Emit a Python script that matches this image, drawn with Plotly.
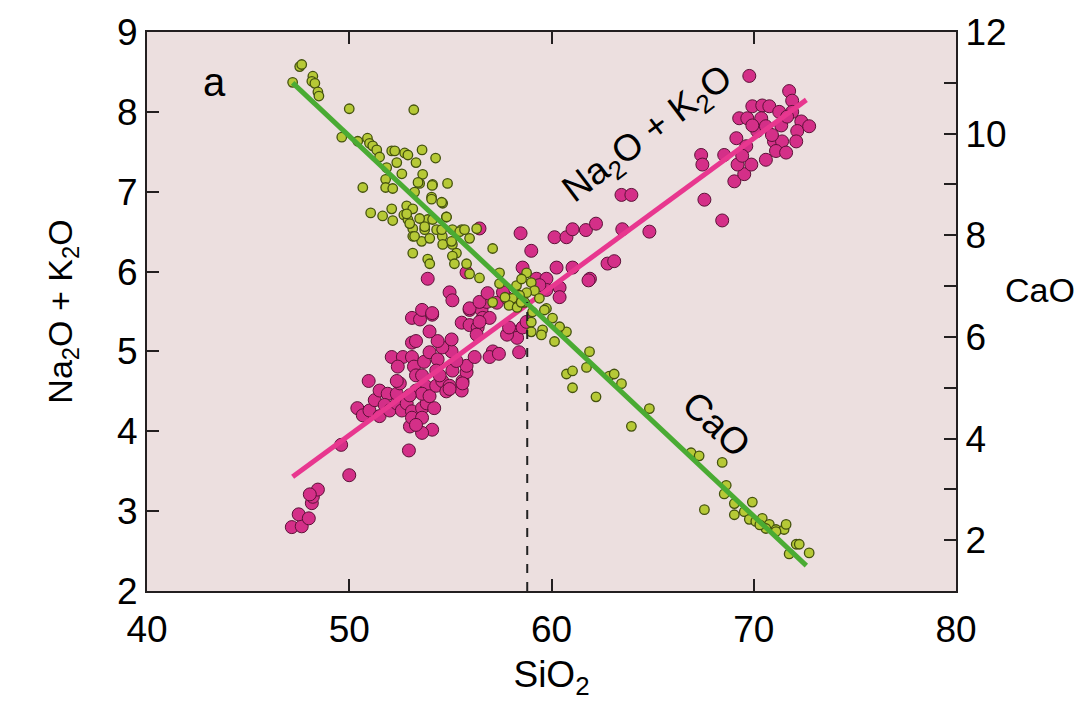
import plotly.graph_objects as go

# Na2O + K2O (wt%) versus SiO2 (wt%)
alk_sio2 = [47.16, 47.65, 47.5, 48.0, 48.15, 48.2, 48.45, 48.05, 50.0, 49.6, 52.95, 54.1, 53.6, 53.0,
            50.4, 50.96, 50.67, 51.0, 51.5, 51.26, 51.5, 51.9, 51.75, 52.0, 52.35, 52.6, 52.84, 53.1, 53.6,
            53.83, 54.2, 53.1, 53.6, 53.3, 52.35, 52.5, 52.35, 52.1, 52.65, 52.4, 53.1, 53.2, 53.3, 53.7,
            53.6, 53.97, 54.37, 54.3, 53.8, 53.3, 53.6, 52.99, 53.97, 54.3, 54.6, 54.47, 54.96, 54.8, 55.56,
            55.6, 55.8, 55.8, 56.2, 55.1, 55.3, 55.06, 54.6, 54.37, 53.97, 53.1, 53.3, 55.06, 55.56, 55.95,
            56.35, 55.95, 56.54, 56.6, 56.3, 53.1, 53.5, 53.6, 54.1,
            54.96, 55.1, 55.95, 56.8, 57.3, 57.8, 58.4, 58.07, 58.3, 58.57, 57.8, 58.4, 57.1, 56.94, 57.4,
            54.96, 55.6,
            56.44, 58.47, 59.0, 60.15, 60.74, 61.04, 61.7, 62.2, 53.88, 56.44, 56.84, 57.6, 56.94, 56.44,
            54.1, 58.57, 59.26, 59.75, 60.25, 61.04, 60.4, 60.4, 59.75, 59.4, 61.9, 58.77, 57.9, 55.8,
            61.83, 62.77, 63.1, 63.5, 63.46, 63.95, 64.84, 67.56, 68.44, 67.4, 67.46, 68.54, 69.04, 69.53,
            69.88, 69.2, 69.14, 69.28, 69.68, 69.78, 69.93, 70.42, 70.77, 70.37, 70.17, 70.6, 71.0, 71.4,
            71.1, 71.6, 70.6, 70.9, 71.75, 71.9, 71.9, 72.35, 72.15, 72.1, 72.74, 71.26, 71.36, 69.93,
            69.63, 69.43, 71.65]
alk_value = [2.80, 2.81, 2.96, 2.91, 3.10, 3.18, 3.27, 3.21, 3.45, 3.83, 3.76, 4.02, 3.98, 4.06,
             4.29, 4.63, 4.20, 4.26, 4.19, 4.39, 4.51, 4.47, 4.33, 4.26, 4.35, 4.26, 4.35, 4.25, 4.29,
             4.35, 4.29, 4.17, 4.17, 4.08, 4.47, 4.60, 4.63, 4.93, 4.93, 4.81, 4.93, 4.81, 4.70, 4.87,
             4.70, 4.99, 4.90, 4.76, 4.56, 4.51, 4.47, 4.45, 4.44, 4.57, 4.63, 4.70, 4.57, 4.50, 4.51,
             4.63, 4.74, 4.82, 4.93, 4.76, 4.88, 5.00, 5.05, 5.13, 5.25, 5.11, 5.13, 5.15, 5.36, 5.33,
             5.30, 5.52, 5.52, 5.42, 5.21, 5.42, 5.40, 5.52, 5.46,
             5.74, 5.64, 5.54, 5.62, 5.61, 5.67, 5.64, 5.25, 5.17, 5.30, 5.21, 4.99, 5.00, 4.93, 4.97,
             4.53, 4.60,
             6.54, 6.48, 6.26, 6.43, 6.43, 6.53, 6.52, 6.60, 5.91, 5.62, 5.73, 5.74, 5.42, 5.37,
             5.48, 6.05, 5.91, 5.91, 6.05, 6.05, 5.80, 5.68, 5.77, 5.83, 5.91, 5.37, 5.30, 5.99,
             5.89, 6.10, 6.13, 6.53, 6.96, 6.96, 6.50, 6.90, 6.64, 7.46, 7.34, 7.46, 7.13, 7.22,
             7.34, 7.34, 7.67, 7.92, 7.92, 8.45, 8.07, 8.08, 8.07, 7.92, 7.76, 7.82, 7.63, 7.63,
             7.51, 7.49, 7.40, 7.71, 8.26, 8.14, 8.00, 7.88, 7.76, 7.63, 7.82, 8.00, 7.83, 7.83,
             7.57, 7.45, 7.94]

# CaO (wt%) versus SiO2 (wt%)
cao_sio2 = [47.55, 47.65, 47.2, 48.2, 48.15, 48.3, 48.45, 48.5, 50.0, 53.19, 49.63, 50.42, 50.9, 51.0,
            51.16, 51.36, 51.5, 52.1, 52.25, 52.74, 52.9, 53.6, 54.27, 53.3, 52.35, 51.85, 52.6, 53.63,
            54.12, 54.86, 53.48, 51.8, 51.8, 52.15, 50.67, 53.23, 54.07, 54.62, 52.84, 53.14, 52.1, 51.06,
            51.65, 52.15, 52.7, 52.9, 53.88, 53.14, 53.73, 54.32, 54.8, 55.1, 55.56, 55.95, 53.14, 53.58,
            53.98, 54.6, 55.1, 53.14, 55.3, 56.3,
            53.4, 54.1, 54.57, 54.07, 52.84, 53.48, 52.99, 53.73, 54.12, 54.81, 54.57, 55.46, 55.7, 53.23,
            54.62, 55.06, 53.88, 53.98, 55.1, 55.2, 55.8, 57.09, 55.95, 56.44, 57.43, 57.43, 58.27, 58.77,
            58.52, 59.0, 59.16, 58.77, 58.42, 58.07, 57.9, 58.3, 58.67, 59.4, 59.75, 60.05, 59.06, 59.0,
            59.56, 60.4, 60.74, 57.7, 57.09,
            58.5, 59.0, 59.5, 59.65, 60.4, 60.15, 61.88, 61.73, 60.74, 61.04, 61.04, 62.2, 62.86, 63.1,
            63.46, 64.84, 63.95, 66.9, 67.3, 68.44, 68.64, 68.54, 67.56, 69.04, 69.04, 69.53, 69.93, 69.78,
            70.1, 70.42, 70.77, 71.1, 71.5, 71.6, 70.6, 72.1, 72.25, 71.75, 72.74, 71.1, 70.3]
cao_value = [11.32, 11.36, 11.01, 11.13, 11.03, 10.99, 10.82, 10.74, 10.49, 10.47, 9.93, 9.85, 9.91, 9.81,
             9.76, 9.68, 9.54, 9.66, 9.66, 9.62, 9.58, 9.68, 9.52, 9.43, 9.43, 9.33, 9.21, 9.20,
             9.00, 9.02, 9.02, 9.10, 8.94, 8.92, 8.94, 8.85, 8.75, 8.63, 8.58, 8.52, 8.52, 8.44,
             8.38, 8.29, 8.40, 8.31, 8.31, 8.13, 8.11, 8.11, 8.36, 8.11, 8.11, 7.94, 7.98, 7.88,
             7.94, 7.98, 7.82, 7.65, 7.65, 8.13,
             9.04, 8.98, 8.65, 8.71, 8.42, 8.33, 8.23, 8.17, 8.31, 8.36, 8.11, 8.07, 8.11, 7.98,
             7.82, 7.88, 7.53, 7.44, 7.59, 7.44, 7.44, 7.74, 7.24, 7.16, 7.26, 7.05, 7.01, 7.26,
             7.14, 7.07, 6.91, 6.87, 6.82, 6.76, 6.62, 6.58, 6.68, 6.76, 6.56, 6.37, 6.49, 6.29,
             6.14, 6.18, 6.10, 6.78, 6.68,
             6.68, 6.10, 6.04, 6.53, 6.20, 5.91, 5.71, 5.40, 5.27, 5.33, 5.00, 4.82, 5.23, 5.27,
             5.08, 4.59, 4.24, 3.72, 3.66, 3.53, 3.08, 2.91, 2.60, 2.72, 2.50, 2.56, 2.75, 2.41,
             2.37, 2.43, 2.31, 2.21, 2.21, 2.31, 2.23, 1.92, 1.92, 1.73, 1.75, 2.17, 2.30]

# Linear fits (end points)
alk_fit_sio2 = [47.2, 72.6]
alk_fit_value = [3.43, 8.15]
cao_fit_sio2 = [47.2, 72.6]
cao_fit_value = [11.0, 1.5]

# SiO2 where the two fits cross
crossing_sio2 = 58.8
crossing_alk = 5.62

x_ticks = [40, 50, 60, 70, 80]
alk_ticks = [2, 3, 4, 5, 6, 7, 8, 9]
cao_ticks = [2, 4, 6, 8, 10, 12]
cao_minor_ticks = [3, 5, 7, 9, 11]

FONT = "Liberation Sans, Arial, Helvetica, sans-serif"
AXIS_COLOR = "#231f20"
TICK_SIZE = 37

fig = go.Figure()

fig.add_trace(go.Scatter(
    x=alk_sio2, y=alk_value, mode="markers",
    marker=dict(size=13, color="#d42f88", line=dict(color="#5c1238", width=1)),
    showlegend=False, hoverinfo="skip"))

fig.add_trace(go.Scatter(
    x=cao_sio2, y=cao_value, mode="markers", yaxis="y2",
    marker=dict(size=9.5, color="#b6c936", line=dict(color="#44520e", width=1.3)),
    showlegend=False, hoverinfo="skip"))

fig.add_trace(go.Scatter(
    x=alk_fit_sio2, y=alk_fit_value, mode="lines",
    line=dict(color="#e8378f", width=5), showlegend=False, hoverinfo="skip"))

fig.add_trace(go.Scatter(
    x=cao_fit_sio2, y=cao_fit_value, mode="lines", yaxis="y2",
    line=dict(color="#4aab33", width=5), showlegend=False, hoverinfo="skip"))

# dashed drop line from the crossing point to the SiO2 axis
fig.add_shape(type="line", xref="x", yref="y",
              x0=crossing_sio2, x1=crossing_sio2, y0=alk_ticks[0], y1=crossing_alk,
              line=dict(color="#222222", width=2, dash="dash"))

fig.update_layout(
    width=1086, height=706,
    margin=dict(l=147, r=130, t=22, b=115),
    paper_bgcolor="white",
    plot_bgcolor="#ecdfdf",
    font=dict(family=FONT, size=TICK_SIZE, color="black"),
    xaxis=dict(
        range=[40, 80], tickvals=x_ticks, ticks="inside", ticklen=12, tickwidth=2,
        tickcolor=AXIS_COLOR, showline=True, linecolor=AXIS_COLOR, linewidth=2,
        mirror="ticks", showgrid=False, zeroline=False,
        tickfont=dict(size=TICK_SIZE), ticklabelstandoff=5,
        title=dict(text="SiO<sub>2</sub>", font=dict(size=37), standoff=12),
    ),
    yaxis=dict(
        range=[2, 9], tickvals=alk_ticks, ticks="inside", ticklen=12, tickwidth=2,
        tickcolor=AXIS_COLOR, showline=True, linecolor=AXIS_COLOR, linewidth=2,
        showgrid=False, zeroline=False,
        tickfont=dict(size=TICK_SIZE),
        title=dict(text="Na<sub>2</sub>O + K<sub>2</sub>O", font=dict(size=34), standoff=34),
    ),
    yaxis2=dict(
        range=[1, 12], overlaying="y", side="right", tickvals=cao_ticks,
        ticks="inside", ticklen=12, tickwidth=2, tickcolor=AXIS_COLOR,
        minor=dict(tickvals=cao_minor_ticks, ticks="inside", ticklen=12, tickwidth=2,
                   tickcolor=AXIS_COLOR, showgrid=False),
        showline=True, linecolor=AXIS_COLOR, linewidth=2,
        showgrid=False, zeroline=False, tickfont=dict(size=TICK_SIZE),
    ),
    annotations=[
        dict(text="a", x=43.36, y=8.38, xref="x", yref="y", showarrow=False,
             xanchor="center", yanchor="middle", font=dict(size=40)),
        dict(text="Na<sub>2</sub>O + K<sub>2</sub>O", x=64.79, y=7.71, xref="x", yref="y",
             showarrow=False, textangle=-37, xanchor="center", yanchor="middle",
             font=dict(size=37)),
        dict(text="CaO", x=68.15, y=4.08, xref="x", yref="y",
             showarrow=False, textangle=43, xanchor="center", yanchor="middle",
             font=dict(size=37)),
        dict(text="CaO", x=1.104, y=0.538, xref="paper", yref="paper",
             showarrow=False, xanchor="center", yanchor="middle", font=dict(size=34)),
    ],
)

fig.write_html("out.html")
